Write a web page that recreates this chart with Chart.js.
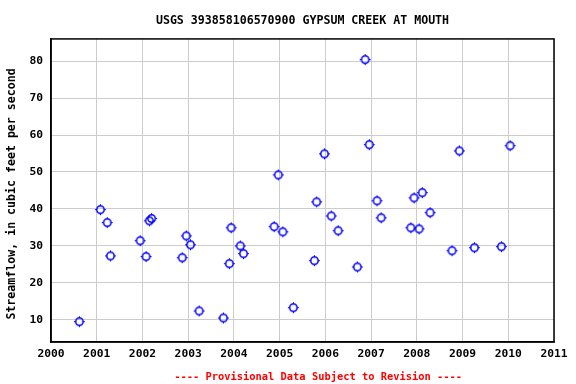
<!DOCTYPE html>
<html lang="en">
  <head>
    <meta charset="UTF-8" />
    <title>USGS 393858106570900 GYPSUM CREEK AT MOUTH</title>
    <script src="https://cdn.jsdelivr.net/npm/chart.js@4"></script>
    <style>
      body { margin: 0; background: #fff; }
      #wrap { width: 576px; height: 384px; }
    </style>
  </head>
  <body>
    <div id="wrap"><canvas id="myChart" width="576" height="384"></canvas></div>

    <script>
      // decimal year of each measurement, and streamflow (cfs)
      const years = [
        2000.62, 2001.08, 2001.23, 2001.30, 2001.95, 2002.08, 2002.15, 2002.20,
        2002.87, 2002.96, 2003.05, 2003.24, 2003.77, 2003.90, 2003.94, 2004.14,
        2004.21, 2004.88, 2004.97, 2005.07, 2005.30, 2005.76, 2005.81, 2005.98,
        2006.13, 2006.28, 2006.70, 2006.87, 2006.96, 2007.13, 2007.22, 2007.87,
        2007.94, 2008.05, 2008.12, 2008.29, 2008.77, 2008.93, 2009.26, 2009.85,
        2010.04
      ];
      const flows = [
        9.5, 39.8, 36.3, 27.3, 31.4, 27.1, 36.8, 37.4,
        26.8, 32.7, 30.3, 12.4, 10.5, 25.2, 34.9, 30.0,
        27.9, 35.2, 49.2, 33.8, 13.3, 26.0, 41.9, 54.9,
        38.1, 34.1, 24.3, 80.4, 57.4, 42.2, 37.6, 34.9,
        43.0, 34.6, 44.4, 39.0, 28.7, 55.7, 29.5, 29.8,
        57.1
      ];
      const xTicks = [2000, 2001, 2002, 2003, 2004, 2005, 2006, 2007, 2008, 2009, 2010, 2011];
      const yTicks = [10, 20, 30, 40, 50, 60, 70, 80];

      const monoFont = 'DejaVu Sans Mono';

      // hollow blue circle with little ticks, like the USGS marker
      function makeMarker() {
        const m = document.createElement('canvas');
        m.width = 13; m.height = 13;
        const g = m.getContext('2d');
        g.strokeStyle = '#0000ff';
        g.lineWidth = 1.5;
        g.beginPath();
        g.arc(6.5, 6.5, 3.7, 0, Math.PI * 2);
        g.stroke();
        g.lineWidth = 1;
        g.beginPath();
        g.moveTo(6.5, 1); g.lineTo(6.5, 3);
        g.moveTo(6.5, 10); g.lineTo(6.5, 12);
        g.moveTo(1, 6.5); g.lineTo(3, 6.5);
        g.moveTo(10, 6.5); g.lineTo(12, 6.5);
        g.stroke();
        return m;
      }

      const points = years.map((y, i) => ({ x: y, y: flows[i] }));

      const ctx = document.getElementById('myChart').getContext('2d');
      const myChart = new Chart(ctx, {
        type: 'scatter',
        data: {
          datasets: [
            {
              label: 'Streamflow',
              data: points,
              pointStyle: makeMarker(),
              pointRadius: 5,
              borderColor: '#0000ff',
              backgroundColor: 'rgba(255,255,255,0)'
            }
          ]
        },
        options: {
          responsive: false,
          animation: false,
          layout: { padding: { left: 0, right: 22, top: 0, bottom: 0 } },
          plugins: {
            legend: { display: false },
            tooltip: { enabled: false },
            title: {
              display: true,
              text: 'USGS 393858106570900 GYPSUM CREEK AT MOUTH',
              color: '#000',
              fullSize: false,
              font: { family: monoFont, size: 11.6, weight: 'bold' },
              padding: { top: 14, bottom: 11 }
            }
          },
          scales: {
            x: {
              type: 'linear',
              min: 2000,
              max: 2011,
              afterBuildTicks: axis => { axis.ticks = xTicks.map(v => ({ value: v })); },
              afterFit: axis => { axis.height = 42; },
              ticks: {
                color: '#000',
                maxRotation: 0,
                autoSkip: false,
                padding: 5,
                font: { family: monoFont, size: 11.3, weight: 'bold' },
                callback: v => String(v)
              },
              grid: { color: '#cccccc', lineWidth: 1, drawTicks: false },
              border: { color: '#000', width: 1.5 },
              title: {
                display: true,
                text: '     ---- Provisional Data Subject to Revision ----',
                color: '#ff0000',
                font: { family: monoFont, size: 10.4, weight: 'bold' },
                padding: { top: 5, bottom: 0 }
              }
            },
            y: {
              type: 'linear',
              min: 4,
              max: 86,
              afterBuildTicks: axis => { axis.ticks = yTicks.map(v => ({ value: v })); },
              afterFit: axis => { axis.width = 51; },
              ticks: {
                color: '#000',
                padding: 8,
                font: { family: monoFont, size: 11.3, weight: 'bold' }
              },
              grid: { color: '#cccccc', lineWidth: 1, drawTicks: false },
              border: { color: '#000', width: 1.5 },
              title: {
                display: true,
                text: 'Streamflow, in cubic feet per second ',
                color: '#000',
                font: { family: monoFont, size: 11.6, weight: 'bold' },
                padding: { top: 5, bottom: 0 }
              }
            }
          }
        },
        plugins: [{
          id: 'frame',
          afterDraw(chart) {
            const a = chart.chartArea;
            const c = chart.ctx;
            c.save();
            c.strokeStyle = '#000';
            c.lineWidth = 1.5;
            c.strokeRect(a.left, a.top, a.right - a.left, a.bottom - a.top);
            c.restore();
          }
        }]
      });
    </script>
  </body>
</html>
